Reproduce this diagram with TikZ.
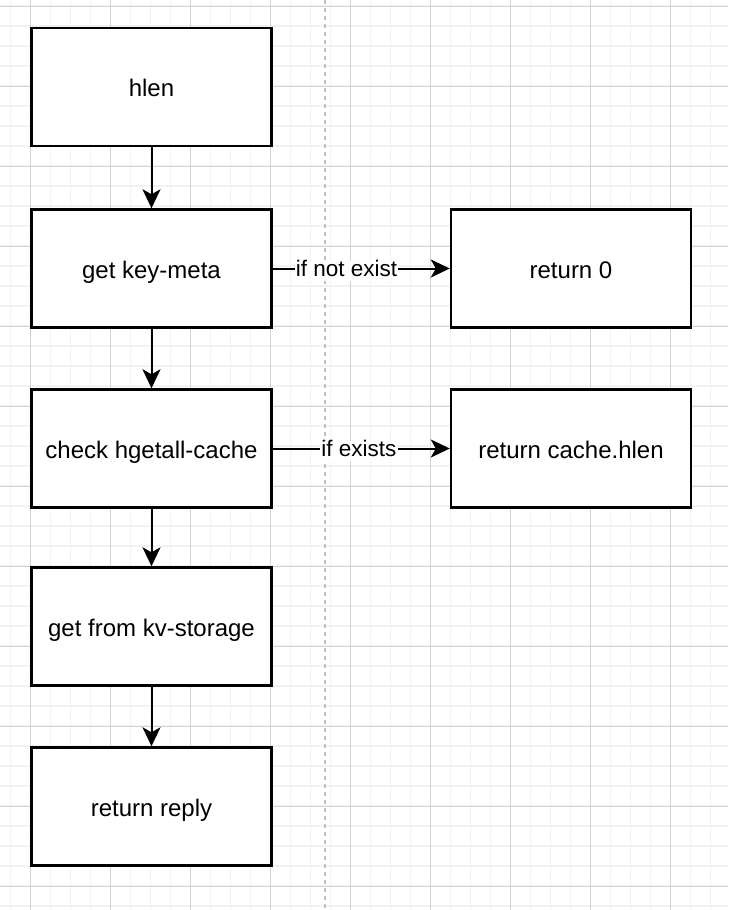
\documentclass[tikz,border=0pt]{standalone}
\usepackage{fontspec}
\setmainfont{Liberation Sans}
\usetikzlibrary{arrows.meta}
\definecolor{gridminor}{HTML}{F2F2F2}
\definecolor{gridmajor}{HTML}{D3D3D3}
\definecolor{dashgray}{HTML}{C0C0C0}
\begin{document}
\begin{tikzpicture}[x=1pt,y=-1pt,
  box/.style={draw=black, line width=2.4pt, fill=white, minimum width=240pt, minimum height=118pt,
    inner sep=0pt, font=\fontsize{24}{28}\selectfont, text height=21pt, text depth=1.6pt},
  flow/.style={line width=2pt, -{Stealth[length=19pt,width=18pt,inset=5pt]}},
  lbl/.style={fill=white, inner xsep=1pt, inner ysep=0pt, font=\fontsize{22.5}{26}\selectfont,
    text height=16pt, text depth=4.5pt}]
\useasboundingbox (0,0) rectangle (728,910);
\fill[white] (0,0) rectangle (728,910);
% grid
\foreach \x in {10.5,30.5,...,728} \draw[gridminor, line width=1.5pt] (\x,0) -- (\x,910);
\foreach \y in {6,26,...,910} \draw[gridminor, line width=1.5pt] (0,\y) -- (728,\y);
\foreach \x in {30.5,110.5,...,728} \draw[gridmajor, line width=1pt] (\x,0) -- (\x,910);
\foreach \y in {6,86,...,910} \draw[gridmajor, line width=1pt] (0,\y) -- (728,\y);
% dashed divider
\draw[dashgray, line width=1.5pt, dash pattern=on 4pt off 4pt] (325,0) -- (325,910);
% boxes
\node[box] (hlen)  at (151.5,87)    {hlen};
\node[box] (meta)  at (151.5,268.5) {get key-meta};
\node[box] (cache) at (151.5,448.5) {check hgetall-cache};
\node[box] (kv)    at (151.5,626.5) {get from kv-storage};
\node[box] (reply) at (151.5,806.5) {return reply};
\node[box] (ret0)  at (571,268.5)   {return 0};
\node[box] (reth)  at (571,448.5)   {return cache.hlen};
% connectors
\draw[flow] (hlen) -- (meta);
\draw[flow] (meta) -- (cache);
\draw[flow] (cache) -- (kv);
\draw[flow] (kv) -- (reply);
\draw[flow] (meta) -- (ret0);
\draw[flow] (cache) -- (reth);
\node[lbl] (l1) at (346.5,271) {if not exist};
\node[lbl] (l2) at (359,451) {if exists};
\end{tikzpicture}
\end{document}
